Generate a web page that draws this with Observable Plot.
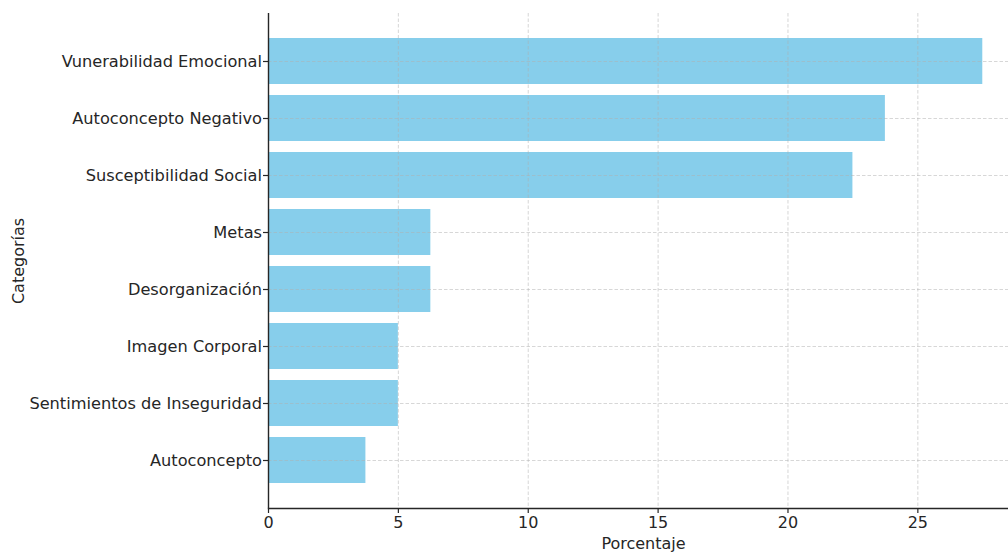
<!DOCTYPE html>
<html><head><meta charset="utf-8">
<script src="https://cdn.jsdelivr.net/npm/d3@7"></script>
<script src="https://cdn.jsdelivr.net/npm/@observablehq/plot@0.6"></script>
<style>html,body{margin:0;padding:0;overflow:hidden;background:#fff}</style>
</head><body><div id="chart"></div>
<script>
const categories = ["Vunerabilidad Emocional","Autoconcepto Negativo","Susceptibilidad Social","Metas","Desorganización","Imagen Corporal","Sentimientos de Inseguridad","Autoconcepto"];
const values = [27.5, 23.75, 22.5, 6.25, 6.25, 5, 5, 3.75];
const xTicks = [0, 5, 10, 15, 20, 25];
const xLabel = "Porcentaje";
const yLabel = "Categorías";

const data = categories.map((c, i) => ({category: c, value: values[i]}));
const ink = "#262626";

const chart = Plot.plot({
  width: 1008, height: 554,
  marginLeft: 268, marginRight: 0, marginTop: 13, marginBottom: 46,
  style: {fontFamily: "DejaVu Sans", fontSize: "16px", color: ink, background: "white", overflow: "hidden"},
  x: {domain: [0, 28.875], range: [268, 1018]},
  y: {domain: categories, paddingInner: 0.2, paddingOuter: 0.39},
  marks: [
    Plot.barX(data, {y: "category", x: "value", fill: "#87CEEB"}),
    Plot.gridX(xTicks, {stroke: "#b0b0b0", strokeOpacity: 0.5, strokeDasharray: "3.5,2"}),
    Plot.gridY(categories, {stroke: "#b0b0b0", strokeOpacity: 0.5, strokeDasharray: "3.5,2"}),
    Plot.axisX(xTicks, {tickSize: 5, tickPadding: 3, label: null, fontSize: 16, stroke: ink, strokeWidth: 1.2}),
    Plot.axisY({tickSize: 5, tickPadding: 1.5, label: null, fontSize: 16.2, stroke: ink, strokeWidth: 1.2}),
    Plot.ruleX([0], {stroke: ink, strokeWidth: 1.4}),
    Plot.frame({anchor: "bottom", stroke: ink, strokeWidth: 1.4}),
    Plot.text([xLabel], {frameAnchor: "bottom", dx: 5, dy: 40, fontSize: 16, fill: ink}),
    Plot.text([yLabel], {frameAnchor: "left", textAnchor: "middle", dx: -250, rotate: -90, fontSize: 16, fill: ink})
  ]
});
document.getElementById("chart").appendChild(chart);
</script>
</body></html>
